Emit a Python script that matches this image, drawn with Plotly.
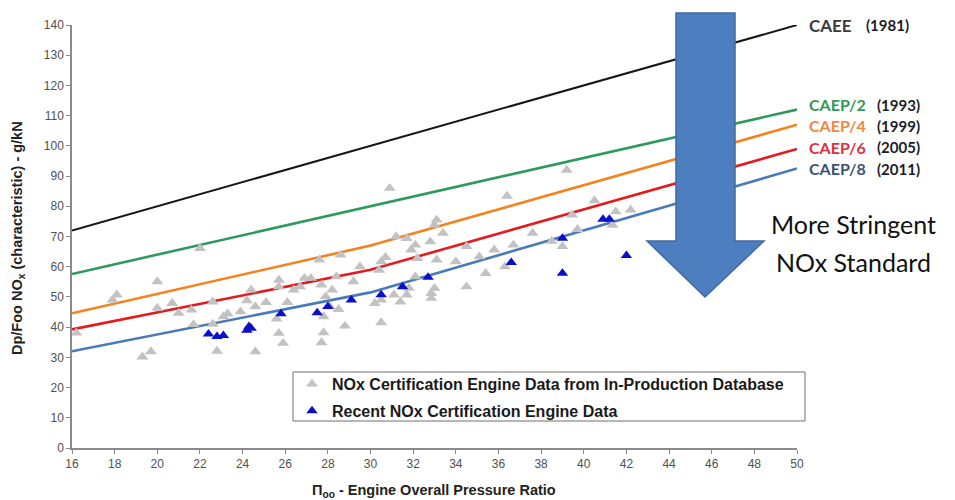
import plotly.graph_objects as go

# ---- Data -------------------------------------------------------------
# Engine overall pressure ratio break points used by the regulatory lines
std_pr = [16, 30, 50]
std_names = ["CAEE", "CAEP/2", "CAEP/4", "CAEP/6", "CAEP/8"]
std_years = ["(1981)", "(1993)", "(1999)", "(2005)", "(2011)"]
caee = [72.0, 100.0, 140.0]
caep2 = [57.6, 80.0, 112.0]
caep4 = [44.6, 67.0, 107.0]
caep6 = [39.25, 58.96, 98.96]
caep8 = [32.0, 51.5, 92.5]
std_values = [caee, caep2, caep4, caep6, caep8]
std_colors = ["#161616", "#2e9a5c", "#f5821f", "#e41a1c", "#4a7ab8"]
label_colors = ["#3a3a3a", "#2f9a58", "#f0883e", "#e0303c", "#3b5273"]
# vertical nudge (px) so the stacked end labels do not collide
label_shift = [0, 5, -1, 2, 0]

# In-production database engines (pressure ratio, Dp/Foo NOx)
gray_pr = [16.2, 17.9, 18.1, 19.3, 19.7, 20.0, 20.0, 20.7, 21.0, 21.6, 21.7, 22.0,
           22.6, 22.6, 22.8, 23.1, 23.3, 23.9, 24.2, 24.4, 24.6, 24.6, 25.1, 25.7,
           25.7, 25.6, 25.7, 25.9, 26.1, 26.4, 26.7, 26.9, 27.2, 27.6, 27.7, 27.8,
           27.8, 27.7, 27.9, 28.1, 28.2, 28.4, 28.5, 28.6, 28.8, 29.2, 29.5, 30.2,
           30.4, 30.5, 30.5, 30.5, 30.7, 30.9, 31.1, 31.2, 31.4, 31.7, 31.7, 31.8,
           31.9, 32.1, 32.1, 32.2, 32.8, 32.85, 32.85, 33.0, 33.0, 33.1, 33.1, 33.4,
           34.0, 34.5, 34.5, 35.1, 35.4, 35.8, 36.3, 36.4, 36.7, 37.6, 38.5, 39.0,
           39.2, 39.45, 39.7, 40.5, 41.35, 41.5, 42.2]
gray_nox = [38.1, 49.0, 50.7, 30.2, 31.9, 55.1, 46.3, 47.9, 44.6, 45.7, 40.9, 66.1,
            48.4, 41.0, 32.1, 43.5, 44.4, 45.1, 48.8, 52.3, 46.8, 31.9, 48.2, 55.6,
            53.4, 42.7, 38.0, 34.7, 48.2, 52.3, 53.4, 56.2, 56.2, 62.3, 54.0, 43.5,
            38.2, 34.9, 50.1, 46.8, 52.3, 56.7, 45.9, 63.9, 40.4, 55.1, 60.0, 47.9,
            58.9, 61.7, 49.0, 41.5, 63.1, 86.0, 50.7, 70.0, 48.4, 69.4, 50.7, 52.9,
            65.6, 67.2, 56.7, 62.8, 68.3, 51.2, 49.6, 73.8, 52.9, 75.5, 62.3, 71.1,
            61.7, 66.7, 53.4, 63.3, 57.8, 65.6, 60.0, 83.4, 67.2, 71.1, 68.5, 66.7,
            92.0, 77.2, 72.4, 81.9, 73.8, 78.2, 78.8]

# Recent certification engines
blue_pr = [22.4, 22.8, 23.1, 24.2, 24.3, 24.4, 25.8, 27.5, 28.0, 29.1, 30.5,
           31.5, 32.7, 36.6, 39.0, 39.0, 40.9, 41.2, 42.0]
blue_nox = [37.7, 36.9, 37.2, 39.0, 40.2, 39.6, 44.4, 44.8, 46.8, 49.0, 50.7,
            53.4, 56.5, 61.4, 69.4, 57.8, 75.7, 75.7, 63.7]

x_ticks = list(range(16, 51, 2))
y_ticks = list(range(0, 141, 10))

# ---- Layout geometry (pixels) ----------------------------------------
W, H = 955, 500
L, R, T, B = 72, 158, 25, 52
PW, PH = W - L - R, H - T - B


def px(xp):
    return (xp - L) / PW


def py(yp):
    return (H - B - yp) / PH


fig = go.Figure()

for name, vals, col in zip(std_names, std_values, std_colors):
    fig.add_trace(go.Scatter(
        x=std_pr, y=vals, mode="lines", name=name, showlegend=False,
        line=dict(color=col, width=2 if name == "CAEE" else 2.6),
        hoverinfo="skip"))

fig.add_trace(go.Scatter(
    x=gray_pr, y=gray_nox, mode="markers",
    name="<b>NOx Certification Engine Data from In-Production Database</b>",
    marker=dict(symbol="triangle-up", size=10.5, color="#c2c2c2", line=dict(width=0)),
    legendgroup="a"))
fig.add_trace(go.Scatter(
    x=blue_pr, y=blue_nox, mode="markers",
    name="<b>Recent NOx Certification Engine Data</b>",
    marker=dict(symbol="triangle-up", size=10, color="#0a10c8", line=dict(width=0)),
    legendgroup="b"))

# Standard labels at the right end of each line
for name, year, vals, col, dy in zip(std_names, std_years, std_values,
                                      label_colors, label_shift):
    is_caee = name == "CAEE"
    fig.add_annotation(
        x=std_pr[-1], y=vals[-1], xref="x", yref="y", xanchor="left",
        xshift=10, yshift=dy, showarrow=False,
        text=f"<b>{name}</b>",
        font=dict(family="Lato", size=17 if is_caee else 16, color=col))
    fig.add_annotation(
        x=std_pr[-1], y=vals[-1], xref="x", yref="y", xanchor="left",
        xshift=67 if is_caee else 78, yshift=dy, showarrow=False,
        text=f"<b>{year}</b>",
        font=dict(family="Lato", size=15, color="#1c1c28"))

# Big downward arrow
path = "M {},{} L {},{} L {},{} L {},{} L {},{} L {},{} L {},{} L {},{} Z".format(
    px(676), py(13), px(735), py(13), px(735), py(241), px(764), py(241),
    px(705), py(297), px(647), py(241), px(676), py(241), px(676), py(13))
fig.add_shape(type="path", path=path, xref="paper", yref="paper",
              fillcolor="#4d7ebf", line=dict(color="#3f6aa3", width=1.5),
              layer="above")

# Legend frame
fig.add_shape(type="rect", xref="paper", yref="paper",
              x0=px(293), x1=px(805), y0=py(421), y1=py(372),
              fillcolor="white", line=dict(color="#6e6e6e", width=1),
              layer="above")

fig.add_annotation(x=px(853), y=py(224), xref="paper", yref="paper",
                   text="More Stringent", showarrow=False, xanchor="center",
                   yanchor="middle", font=dict(family="Lato", size=25, color="#111111"))
fig.add_annotation(x=px(853), y=py(262), xref="paper", yref="paper",
                   text="NOx Standard", showarrow=False, xanchor="center",
                   yanchor="middle", font=dict(family="Lato", size=25, color="#111111"))

# Axis titles
fig.add_annotation(x=px(18), y=py(238), xref="paper", yref="paper", textangle=-90,
                   text="<b>Dp/Foo NO<sub>x</sub> (characteristic) - g/kN</b>",
                   showarrow=False, xanchor="center", yanchor="middle",
                   font=dict(family="Liberation Sans", size=14.5, color="#222222"))
fig.add_annotation(x=px(434), y=py(491), xref="paper", yref="paper",
                   text="<b>\u03a0<sub>oo</sub> - Engine Overall Pressure Ratio</b>",
                   showarrow=False, xanchor="center", yanchor="middle",
                   font=dict(family="Liberation Sans", size=14.5, color="#222222"))

axis_common = dict(showgrid=False, zeroline=False, showline=True,
                   linecolor="#8a8a8a", linewidth=1.5, ticks="outside",
                   ticklen=4, tickwidth=1, tickcolor="#8a8a8a",
                   tickfont=dict(family="Liberation Sans", size=12, color="#505050"))

fig.update_layout(
    width=W, height=H,
    margin=dict(l=L, r=R, t=T, b=B, pad=0),
    paper_bgcolor="white", plot_bgcolor="white",
    xaxis=dict(range=[16, 50], tickvals=x_ticks, **axis_common),
    yaxis=dict(range=[0, 140], tickvals=y_ticks, **axis_common),
    legend=dict(x=px(292), y=py(367), xanchor="left", yanchor="top",
                bgcolor="rgba(0,0,0,0)", borderwidth=0,
                tracegroupgap=3,
                font=dict(family="Liberation Sans", size=16, color="#1a1a1a"),
                itemwidth=30),
    showlegend=True,
)

fig.write_html("out.html")
